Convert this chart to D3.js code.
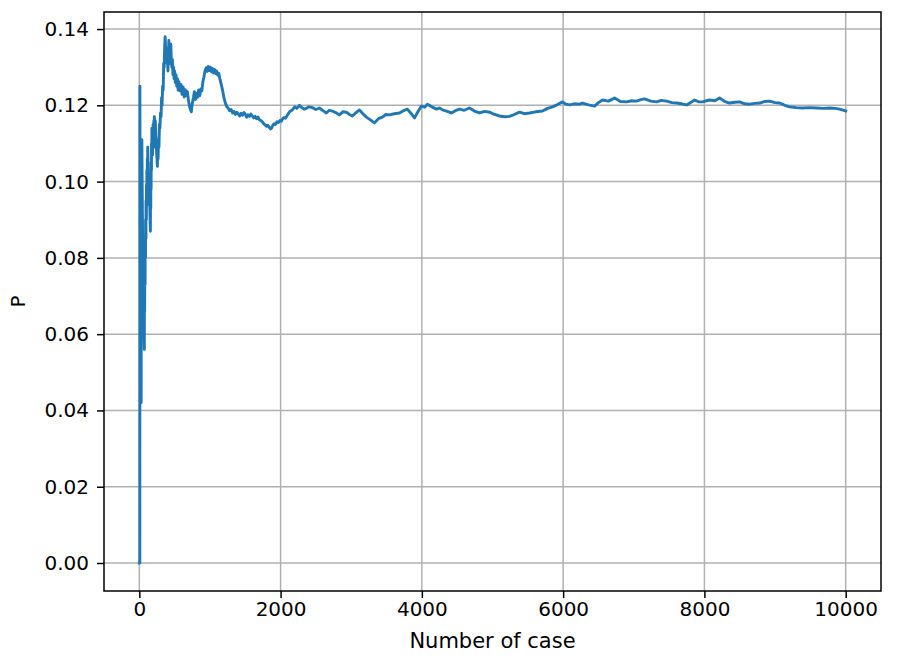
<!DOCTYPE html>
<html><head><meta charset="utf-8">
<script src="https://cdn.jsdelivr.net/npm/d3@7"></script>
<style>body{margin:0;background:#fff}svg{display:block}text{font-family:"DejaVu Sans",sans-serif;fill:#000}</style>
</head><body>
<svg id="c" width="897" height="661"></svg>
<script>
const xTicks = [0, 2000, 4000, 6000, 8000, 10000];
const yTicks = [0.00, 0.02, 0.04, 0.06, 0.08, 0.10, 0.12, 0.14];
const xLabel = "Number of case";
const yLabel = "P";
const cases = [0,7,8,13,20,26,27,30,31,35,36,40,44,48,52,56,60,64,68,71,72,76,77,82,83,88,89,94,95,100,101,106,107,112,113,118,119,124,128,132,136,137,142,146,150,154,157,158,162,163,167,168,172,173,177,178,183,188,189,194,195,200,205,206,212,213,220,225,226,232,238,244,250,256,260,266,271,278,285,292,300,308,315,322,330,338,345,352,360,366,372,378,385,392,398,405,412,418,425,432,438,446,453,460,468,476,484,492,500,510,520,530,540,550,560,575,590,605,620,635,650,665,680,695,710,725,736,750,765,780,795,810,825,840,855,870,885,900,915,930,945,960,975,990,1005,1020,1035,1050,1065,1080,1095,1110,1125,1140,1160,1180,1200,1220,1240,1260,1280,1300,1320,1340,1360,1380,1400,1420,1440,1460,1480,1500,1520,1540,1560,1580,1600,1620,1640,1660,1680,1700,1720,1740,1760,1780,1800,1820,1840,1860,1875,1890,1910,1930,1950,1970,1990,2010,2030,2050,2070,2100,2130,2166,2200,2230,2266,2300,2335,2365,2400,2450,2500,2549,2600,2648,2690,2733,2780,2832,2880,2931,2975,3016,3065,3116,3165,3215,3270,3329,3385,3441,3490,3541,3610,3682,3740,3795,3850,3895,3950,3994,4040,4079,4140,4207,4250,4292,4350,4419,4475,4533,4600,4674,4745,4816,4890,4958,5030,5099,5170,5241,5310,5382,5450,5524,5610,5708,5780,5850,5920,5992,6040,6091,6160,6232,6275,6360,6445,6500,6558,6640,6728,6810,6898,6970,7040,7100,7153,7240,7323,7390,7465,7540,7606,7680,7748,7800,7861,7920,7975,8030,8074,8150,8215,8290,8357,8430,8499,8570,8640,8710,8782,8850,8924,9000,9065,9140,9207,9300,9391,9490,9589,9680,9773,9850,9915,10000];
const pValues = [0,0,0.125,0.077,0.05,0.042,0.074,0.067,0.097,0.086,0.111,0.1,0.091,0.083,0.077,0.071,0.067,0.0625,0.059,0.056,0.069,0.066,0.078,0.073,0.084,0.08,0.09,0.085,0.095,0.09,0.099,0.094,0.103,0.098,0.106,0.102,0.109,0.105,0.1,0.097,0.094,0.102,0.099,0.095,0.092,0.089,0.087,0.095,0.093,0.1,0.098,0.105,0.103,0.11,0.107,0.114,0.11,0.107,0.113,0.11,0.115,0.112,0.109,0.116,0.113,0.117,0.114,0.111,0.116,0.113,0.11,0.108,0.106,0.104,0.108,0.106,0.111,0.109,0.115,0.114,0.118,0.117,0.122,0.12,0.125,0.124,0.131,0.13,0.136,0.138,0.135,0.132,0.135,0.131,0.133,0.129,0.133,0.137,0.134,0.131,0.135,0.136,0.132,0.13,0.132,0.128,0.13,0.127,0.129,0.126,0.128,0.125,0.127,0.124,0.1262,0.1238,0.1255,0.1229,0.1248,0.1222,0.1241,0.1226,0.1236,0.1214,0.1198,0.1188,0.1183,0.1205,0.1219,0.1236,0.1215,0.1232,0.1221,0.124,0.1225,0.1243,0.1238,0.1262,0.1275,0.129,0.1298,0.1289,0.1302,0.1291,0.13,0.1288,0.1297,0.1285,0.1294,0.1283,0.129,0.1279,0.1284,0.127,0.1255,0.1238,0.1218,0.1205,0.1196,0.1192,0.1186,0.1189,0.118,0.1184,0.1176,0.1182,0.1178,0.1172,0.1179,0.1174,0.1181,0.1177,0.1169,0.1175,0.1171,0.1177,0.1172,0.1167,0.1171,0.1165,0.1169,0.1162,0.116,0.1157,0.1152,0.1149,0.1145,0.1148,0.1142,0.1138,0.1141,0.1148,0.1152,0.115,0.1157,0.1155,0.116,0.1158,0.1165,0.1168,0.1166,0.1175,0.1184,0.1188,0.1196,0.1192,0.12,0.1194,0.119,0.1192,0.1196,0.1194,0.1189,0.1193,0.1186,0.118,0.1187,0.1185,0.1181,0.1175,0.1183,0.1182,0.1176,0.1172,0.118,0.1188,0.1178,0.1169,0.1162,0.1154,0.1165,0.1169,0.1176,0.1175,0.1178,0.118,0.1186,0.119,0.1178,0.1167,0.1185,0.1198,0.1195,0.1203,0.1196,0.119,0.1193,0.1188,0.1185,0.118,0.1186,0.119,0.1187,0.1193,0.1185,0.118,0.1184,0.1182,0.1176,0.1172,0.117,0.1171,0.1176,0.1182,0.1178,0.118,0.1183,0.1185,0.1192,0.1196,0.1202,0.1209,0.1203,0.1201,0.1204,0.1203,0.1206,0.1201,0.1198,0.1207,0.1214,0.1211,0.1219,0.121,0.1209,0.1212,0.1211,0.1215,0.1217,0.1211,0.1209,0.1213,0.1211,0.1207,0.1206,0.1204,0.1201,0.1207,0.1214,0.1209,0.1209,0.1212,0.1214,0.1212,0.1219,0.121,0.1206,0.1208,0.1209,0.1204,0.1203,0.1205,0.1206,0.121,0.1211,0.1207,0.1206,0.12,0.1196,0.1194,0.1193,0.1194,0.1193,0.1192,0.1193,0.1192,0.119,0.1185];

const svg = d3.select("#c");
const L = 104, R = 881, T = 12, B = 591;
const x = d3.scaleLinear().domain([-500, 10500]).range([L, R]);
const y = d3.scaleLinear().domain([-0.00734, 0.14447]).range([B, T]);
const data = cases.map((c, i) => [c, pValues[i]]);

const g = svg.append("g");
// grid
g.append("g").selectAll("line").data(xTicks).join("line")
  .attr("x1", d => x(d)).attr("x2", d => x(d))
  .attr("y1", T).attr("y2", B).attr("stroke", "#b0b0b0").attr("stroke-width", 1.5);
g.append("g").selectAll("line").data(yTicks).join("line")
  .attr("y1", d => y(d)).attr("y2", d => y(d))
  .attr("x1", L).attr("x2", R).attr("stroke", "#b0b0b0").attr("stroke-width", 1.5);

// line
g.append("path").datum(data)
  .attr("d", d3.line().x(d => x(d[0])).y(d => y(d[1])))
  .attr("fill", "none").attr("stroke", "#1f77b4").attr("stroke-width", 2.9)
  .attr("stroke-linejoin", "round").attr("stroke-linecap", "square");

// axes
const xa = svg.append("g").attr("transform", `translate(0,${B})`)
  .call(d3.axisBottom(x).tickValues(xTicks).tickFormat(d3.format("d")).tickSize(7).tickPadding(4));
const ya = svg.append("g").attr("transform", `translate(${L},0)`)
  .call(d3.axisLeft(y).tickValues(yTicks).tickFormat(d3.format(".2f")).tickSize(7).tickPadding(8));
[xa, ya].forEach(a => {
  a.select(".domain").remove();
  a.selectAll(".tick line").attr("stroke", "#000").attr("stroke-width", 1.5);
  a.selectAll(".tick text").attr("font-size", 20).attr("font-family", "DejaVu Sans, sans-serif").attr("fill", "#000");
});
// frame
svg.append("rect").attr("x", L).attr("y", T).attr("width", R - L).attr("height", B - T)
  .attr("fill", "none").attr("stroke", "#000").attr("stroke-width", 1.5);

svg.append("text").attr("x", (L + R) / 2).attr("y", 648).attr("text-anchor", "middle")
  .attr("font-size", 21).text(xLabel);
svg.append("text").attr("transform", `translate(25,${(T + B) / 2}) rotate(-90)`)
  .attr("text-anchor", "middle").attr("font-size", 20).text(yLabel);
</script>
</body></html>
